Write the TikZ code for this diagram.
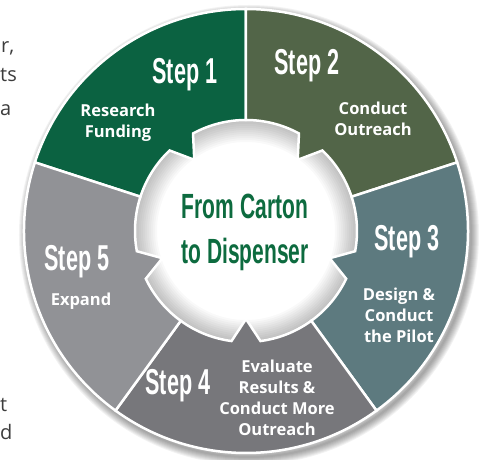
\documentclass[tikz,border=0pt]{standalone}
\usepackage{fontspec}
\usepackage{graphicx}
\usepackage{xcolor}
\setmainfont{Open Sans}
\newfontfamily\stepfont{Liberation Sans}

\definecolor{stepone}{HTML}{0B6241}
\definecolor{steptwo}{HTML}{526548}
\definecolor{stepthree}{HTML}{5D7A7F}
\definecolor{stepfour}{HTML}{77777B}
\definecolor{stepfive}{HTML}{919296}
\definecolor{titlegreen}{HTML}{0D6B3F}
\definecolor{sidegray}{HTML}{3C3C3C}

% condensed look for the big labels
\newcommand{\squeeze}[1]{\scalebox{0.6}[1]{#1}}

% one part of the ring: start angle, end angle, colour
\newcommand{\ringpart}[3]{%
\filldraw[fill=#3, draw=white, line width=2.5pt, line join=miter]
  (#1:222) arc[start angle=#1, end angle=#2, radius=222]
  -- (#2:111) arc[start angle=#2, end angle={(#1+#2)/2+7.5}, radius=111]
  -- ({(#1+#2)/2}:88)
  -- ({(#1+#2)/2-7.5}:111) arc[start angle={(#1+#2)/2-7.5}, end angle=#1, radius=111]
  -- cycle;}

\tikzset{
  steplabel/.style={text=white, inner sep=0pt, font=\stepfont\bfseries\fontsize{36}{36}\selectfont},
  steptext/.style={text=white, align=center, inner sep=0pt, font=\bfseries\fontsize{16.5}{21}\selectfont},
  titletext/.style={text=titlegreen, align=center, inner sep=0pt, font=\stepfont\bfseries\fontsize{35}{45}\selectfont},
  sidetext/.style={text=sidegray, anchor=west, inner sep=0pt, font=\fontsize{20}{20}\selectfont}
}

\begin{document}
\begin{tikzpicture}[x=1pt, y=1pt]
\useasboundingbox (-246,-229) rectangle (234,231);

% drop shadow of the ring
\foreach \w in {2,4,...,16}
  \draw[black, opacity=0.05, line width=\w pt] (3,-4) circle (222);

% centre with its shadow
\fill[white] (0,0) circle (112);
\foreach \w in {4,8,...,44}
  \draw[black, opacity=0.025, line width=\w pt] (0,0) circle (111);

% the five steps
\ringpart{90}{162}{stepone}
\ringpart{18}{90}{steptwo}
\ringpart{-54}{18}{stepthree}
\ringpart{-126}{-54}{stepfour}
\ringpart{162}{234}{stepfive}

\node[steplabel] (s1) at (-61,156) {\squeeze{Step 1}};
\node[steptext] (t1) at (-128,108) {Research\\Funding};

\node[steplabel] (s2) at (61,165) {\squeeze{Step 2}};
\node[steptext] (t2) at (127,112) {Conduct\\Outreach};

\node[steplabel] (s3) at (161,-11) {\squeeze{Step 3}};
\node[steptext] (t3) at (153,-84) {Design \&\\Conduct\\the Pilot};

\node[steplabel] (s4) at (-68,-155) {\squeeze{Step 4}};
\node[steptext] (t4) at (31,-167) {Evaluate\\Results \&\\Conduct More\\Outreach};

\node[steplabel] (s5) at (-169,-31) {\squeeze{Step 5}};
\node[steptext] (t5) at (-165,-70) {Expand};

\node[titletext] (title) at (-1,-1) {\squeeze{From Carton}\\\squeeze{to Dispenser}};

% cut-off words of the page text
\node[sidetext] (w1) at (-245,183) {r,};
\node[sidetext] (w2) at (-246,156) {ts};
\node[sidetext] (w3) at (-246,121) {a};
\node[sidetext] (w4) at (-246,-174) {t};
\node[sidetext] (w5) at (-246,-201) {d};

\end{tikzpicture}
\end{document}
